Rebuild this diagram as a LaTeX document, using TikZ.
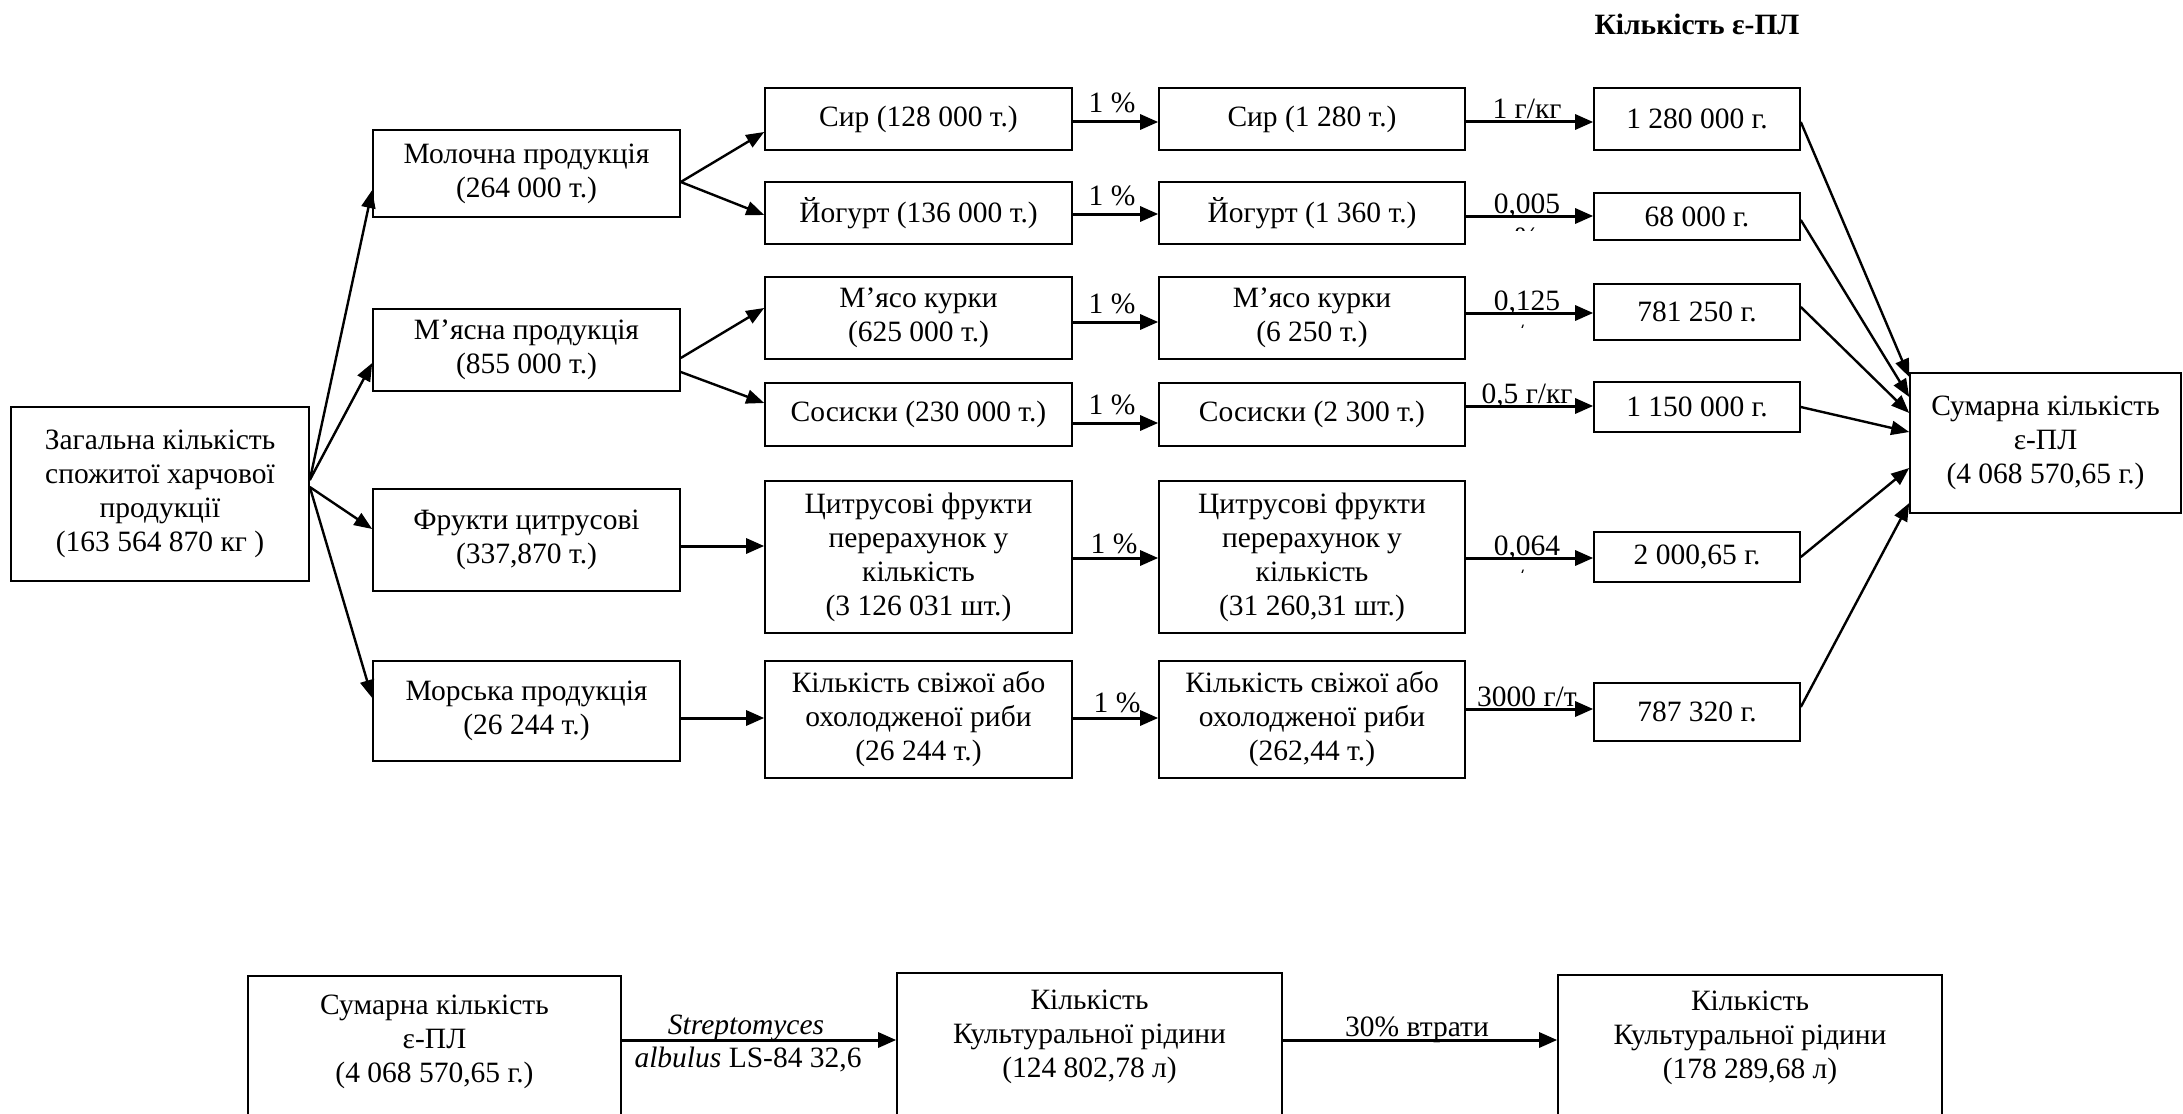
\documentclass[tikz,border=0pt]{standalone}
\usepackage{fontspec}
\setmainfont{Liberation Serif}
\usetikzlibrary{arrows.meta}
\newcommand\fsz{\fontsize{29.5}{34}\selectfont}
\begin{document}
\begin{tikzpicture}[x=1pt,y=-1pt,
  box/.style={draw, line width=1.6pt, align=center, inner sep=0pt, font=\fsz},
  txt/.style={align=center, inner sep=0pt, font=\fsz},
  lbl/.style={inner sep=0pt, anchor=base, font=\fsz},
  arr/.style={line width=3pt, -{Triangle[length=18pt,width=15pt]}},
  dg/.style={line width=2.4pt, -{Triangle[length=18pt,width=14pt]}},
  w1/.style={minimum width=307pt},
  w2/.style={minimum width=306pt},
  w3/.style={minimum width=206pt}]
\useasboundingbox (0,0) rectangle (2183,1113);
\fill[white] (0,0) rectangle (2183,1113);
\clip (0,0) rectangle (2183,1113);

\node[lbl, font=\fsz\bfseries] (title) at (1697,35) {Кількість ε-ПЛ};

% column 0
\node[box, minimum width=298pt, minimum height=174pt] (tot) at (160,494) {Загальна кількість\\спожитої харчової\\продукції\\(163 564 870 кг )};
% column A
\node[box, w1, minimum height=87pt] (mol) at (526.5,173.5) {Молочна продукція\\(264 000 т.)};
\node[box, w1, minimum height=82pt] (mya) at (526.5,350) {М’ясна продукція\\(855 000 т.)};
\node[box, w1, minimum height=102pt] (fru) at (526.5,540) {Фрукти цитрусові\\(337,870 т.)};
\node[box, w1, minimum height=100pt] (mor) at (526.5,711) {Морська продукція\\(26 244 т.)};
% column B
\node[box, w1, minimum height=62pt] (sir1) at (918.5,119) {Сир (128 000 т.)};
\node[box, w1, minimum height=62pt] (yog1) at (918.5,213) {Йогурт (136 000 т.)};
\node[box, w1, minimum height=82pt] (mk1) at (918.5,318) {М’ясо курки\\(625 000 т.)};
\node[box, w1, minimum height=63pt] (sos1) at (918.5,414.5) {Сосиски (230 000 т.)};
\node[box, w1, minimum height=152pt] (cit1) at (918.5,557) {Цитрусові фрукти\\перерахунок у\\кількість\\(3 126 031 шт.)};
\node[box, w1, minimum height=117pt] (rib1) at (918.5,719.5) {Кількість свіжої або\\охолодженої риби\\(26 244 т.)};
% column C
\node[box, w2, minimum height=62pt] (sir2) at (1312,119) {Сир (1 280 т.)};
\node[box, w2, minimum height=62pt] (yog2) at (1312,213) {Йогурт (1 360 т.)};
\node[box, w2, minimum height=82pt] (mk2) at (1312,318) {М’ясо курки\\(6 250 т.)};
\node[box, w2, minimum height=63pt] (sos2) at (1312,414.5) {Сосиски (2 300 т.)};
\node[box, w2, minimum height=152pt] (cit2) at (1312,557) {Цитрусові фрукти\\перерахунок у\\кількість\\(31 260,31 шт.)};
\node[box, w2, minimum height=117pt] (rib2) at (1312,719.5) {Кількість свіжої або\\охолодженої риби\\(262,44 т.)};
% column D
\node[box, w3, minimum height=62pt] (r1) at (1697,119) {1 280 000 г.};
\node[box, w3, minimum height=47pt] (r2) at (1697,216.5) {68 000 г.};
\node[box, w3, minimum height=56pt] (r3) at (1697,312) {781 250 г.};
\node[box, w3, minimum height=50pt] (r4) at (1697,407) {1 150 000 г.};
\node[box, w3, minimum height=50pt] (r5) at (1697,557) {2 000,65 г.};
\node[box, w3, minimum height=58pt] (r6) at (1697,712) {787 320 г.};
% sum
\node[box, minimum width=271pt, minimum height=140pt] (sum) at (2045.5,443) {Сумарна кількість\\ε-ПЛ\\(4 068 570,65 г.)};

% arrows from total
\draw[dg] ([yshift=14pt]tot.east) -- ([yshift=-16.5pt]mol.west);
\draw[dg] ([yshift=14pt]tot.east) -- ([yshift=-13pt]mya.west);
\draw[dg] ([yshift=7pt]tot.east) -- ([yshift=11pt]fru.west);
\draw[dg] ([yshift=7pt]tot.east) -- ([yshift=13pt]mor.west);
% branches
\draw[dg] ([yshift=-8.5pt]mol.east) -- ([yshift=-13pt]sir1.west);
\draw[dg] ([yshift=-8.5pt]mol.east) -- ([yshift=-2pt]yog1.west);
\draw[dg] ([yshift=-8pt]mya.east) -- ([yshift=10pt]mk1.west);
\draw[dg] ([yshift=-22pt]mya.east) -- ([yshift=11.5pt]sos1.west);
\draw[arr] ([yshift=-6pt]fru.east) -- ([yshift=-6pt]fru.east -| cit1.west);
\draw[arr] ([yshift=-7pt]mor.east) -- ([yshift=-7pt]mor.east -| rib1.west);

% B -> C
\draw[arr] ([yshift=-3pt]sir1.east) -- ([yshift=-3pt]sir2.west);
\draw[arr] ([yshift=-1pt]yog1.east) -- ([yshift=-1pt]yog2.west);
\draw[arr] ([yshift=-4pt]mk1.east) -- ([yshift=-4pt]mk2.west);
\draw[arr] ([yshift=-8.5pt]sos1.east) -- ([yshift=-8.5pt]sos2.west);
\draw[arr] ([yshift=-1pt]cit1.east) -- ([yshift=-1pt]cit2.west);
\draw[arr] ([yshift=1.5pt]rib1.east) -- ([yshift=1.5pt]rib2.west);
\node[lbl] (p1) at (1112,113) {1 \%};
\node[lbl] (p2) at (1112,205) {1 \%};
\node[lbl] (p3) at (1112,313) {1 \%};
\node[lbl] (p4) at (1112,414) {1 \%};
\node[lbl] (p5) at (1114,553) {1 \%};
\node[lbl] (p6) at (1117,712) {1 \%};

% C -> D
\draw[arr] ([yshift=-3pt]sir2.east) -- ([yshift=-3pt]sir2.east -| r1.west);
\draw[arr] ([yshift=-3pt]yog2.east) -- ([yshift=-3pt]yog2.east -| r2.west);
\draw[arr] ([yshift=5pt]mk2.east) -- ([yshift=5pt]mk2.east -| r3.west);
\draw[arr] ([yshift=8.5pt]sos2.east) -- ([yshift=8.5pt]sos2.east -| r4.west);
\draw[arr] ([yshift=-1pt]cit2.east) -- ([yshift=-1pt]cit2.east -| r5.west);
\draw[arr] ([yshift=10.5pt]rib2.east) -- ([yshift=10.5pt]rib2.east -| r6.west);
\node[lbl] (q1) at (1527,119) {1 г/кг};
\begin{scope}
\clip (1470,170) rectangle (1590,230);
\node[lbl] (q2) at (1527,213) {0,005};
\node[lbl] (q2b) at (1527,247) {\%};
\end{scope}
\begin{scope}
\clip (1470,267) rectangle (1590,327);
\node[lbl] (q3) at (1527,310) {0,125};
\node[lbl] (q3b) at (1527,344) {г/кг};
\end{scope}
\node[lbl] (q4) at (1527,403) {0,5 г/кг};
\begin{scope}
\clip (1470,512) rectangle (1590,572);
\node[lbl] (q5) at (1527,555) {0,064};
\node[lbl] (q5b) at (1527,589) {г/кг};
\end{scope}
\node[lbl] (q6) at (1527,706) {3000 г/т};

% D -> sum
\draw[dg] ([yshift=-3pt]r1.east) -- ([yshift=66pt]sum.west);
\draw[dg] ([yshift=-3.5pt]r2.east) -- ([yshift=46pt]sum.west);
\draw[dg] ([yshift=5pt]r3.east) -- ([yshift=30pt]sum.west);
\draw[dg] (r4.east) -- ([yshift=11pt]sum.west);
\draw[dg] (r5.east) -- ([yshift=-25pt]sum.west);
\draw[dg] ([yshift=5pt]r6.east) -- ([yshift=-60pt]sum.west);

% bottom row
\coordinate (ya) at (0,1040);
\node[box, minimum width=373pt, minimum height=200pt, anchor=north] (sum2) at (434.5,975) {};
\node[txt] (sum2t) at (434.5,1042) {Сумарна кількість\\ε-ПЛ\\(4 068 570,65 г.)};
\node[box, minimum width=385pt, minimum height=200pt, anchor=north] (kul1) at (1089.5,972) {};
\node[txt] (kul1t) at (1089.5,1037) {Кількість\\Культуральної рідини\\(124 802,78 л)};
\node[box, minimum width=384pt, minimum height=200pt, anchor=north] (kul2) at (1750,974) {};
\node[txt] (kul2t) at (1750,1038) {Кількість\\Культуральної рідини\\(178 289,68 л)};
\draw[arr] (sum2.east |- ya) -- (kul1.west |- ya);
\draw[arr] (kul1.east |- ya) -- (kul2.west |- ya);
\node[lbl, font=\fsz\itshape] (strep) at (746,1034) {Streptomyces};
\node[lbl] (alb) at (748,1067) {\textit{albulus} LS-84 32,6};
\node[lbl] (loss) at (1417,1036) {30\% втрати};
\end{tikzpicture}
\end{document}
